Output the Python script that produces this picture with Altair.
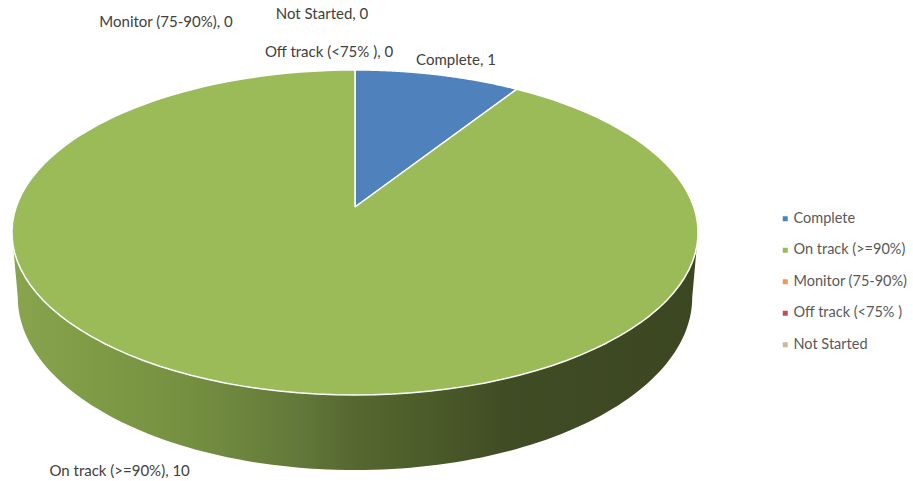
import altair as alt
import pandas as pd

# ---------------- data ----------------
categories = ["Complete", "On track (>=90%)", "Monitor (75-90%)", "Off track (<75% )", "Not Started"]
values = [1, 10, 0, 0, 0]
colors = ["#4F81BD", "#9BBB59", "#F79646", "#C0504D", "#C4BD97"]

# ---------------- layout (not data) ----------------
W, H = 913, 481
CX, CY = 355, 207          # pie apex in pixels
S = 338.8                  # pixels per unit radius
P = 0.157                  # perspective factor
K = 0.468                  # vertical foreshortening of the disc
RB = 0.983                 # bottom rim radius relative to top rim
DEPTH = 0.1865             # wall depth (units)
SIL = 99                   # silhouette angle (deg) where the wall becomes visible
N = 120                    # arc resolution

# label offsets (px) from the slice's rim point at mid angle
label_dx = [18, -123, -189, -26, -33]
label_dy = [-15, 85, -48, -18, -56]

FONT = "Lato"

df = pd.DataFrame({"category": categories, "value": values, "order": list(range(len(categories)))})
df["steps"] = [list(range(-1, N + 2))] * len(df)
df["wsteps"] = [list(range(0, 2 * N + 2))] * len(df)

layout = pd.DataFrame({"category": categories, "ldx": label_dx, "ldy": label_dy})

xs = alt.Scale(domain=[-CX / S, (W - CX) / S], nice=False, zero=False)
ys = alt.Scale(domain=[-CY / S, (H - CY) / S], nice=False, zero=False, reverse=True)
cscale = alt.Scale(domain=categories, range=colors)

base = alt.Chart(df).transform_joinaggregate(
    total="sum(value)"
).transform_window(
    cum="sum(value)", sort=[alt.SortField("order")], frame=[None, 0]
).transform_calculate(
    a0="360*(datum.cum - datum.value)/datum.total",
    a1="360*datum.cum/datum.total",
)

# ---- side wall ----
gradient = alt.LinearGradient(
    gradient="linear", x1=0, x2=1, y1=0, y2=0,
    stops=[
        alt.GradientStop(offset=0.0, color="#88A44D"),
        alt.GradientStop(offset=0.13, color="#7E9A45"),
        alt.GradientStop(offset=0.27, color="#748E40"),
        alt.GradientStop(offset=0.42, color="#62783A"),
        alt.GradientStop(offset=0.5, color="#56672F"),
        alt.GradientStop(offset=0.62, color="#4A5A29"),
        alt.GradientStop(offset=0.72, color="#404C24"),
        alt.GradientStop(offset=1.0, color="#3C4722"),
    ],
)

wall = base.transform_calculate(
    w0=f"max(datum.a0, {SIL})", w1=f"min(datum.a1, {360 - SIL})"
).transform_filter(
    "datum.w1 > datum.w0"
).transform_flatten(["wsteps"]).transform_calculate(
    bot=f"datum.wsteps <= {N}",
    k=f"datum.wsteps <= {N} ? datum.wsteps : {2 * N + 1} - datum.wsteps",
).transform_calculate(
    th=f"(datum.w0 + (datum.w1 - datum.w0)*datum.k/{N})*PI/180"
).transform_calculate(
    px=f"(datum.bot ? {RB} : 1)*sin(datum.th)/(1 + {P}*cos(datum.th))",
    py=f"(-{K}*cos(datum.th) + (datum.bot ? {DEPTH} : 0))/(1 + {P}*cos(datum.th))",
).mark_line(fill=gradient, stroke="transparent", strokeWidth=0).encode(
    x=alt.X("px:Q", scale=xs, axis=None),
    y=alt.Y("py:Q", scale=ys, axis=None),
    detail="category:N",
    order="wsteps:Q",
)

# ---- top face slices (also carries the legend) ----
top = base.transform_filter("datum.value > 0").transform_flatten(["steps"]).transform_calculate(
    k=f"clamp(datum.steps, 0, {N})",
    ctr=f"datum.steps < 0 || datum.steps > {N}",
).transform_calculate(
    th=f"(datum.a0 + (datum.a1 - datum.a0)*datum.k/{N})*PI/180"
).transform_calculate(
    px=f"datum.ctr ? 0 : sin(datum.th)/(1 + {P}*cos(datum.th))",
    py=f"datum.ctr ? 0 : -{K}*cos(datum.th)/(1 + {P}*cos(datum.th))",
).mark_line(stroke="white", strokeWidth=1.5, strokeJoin="round").encode(
    x=alt.X("px:Q", scale=xs, axis=None),
    y=alt.Y("py:Q", scale=ys, axis=None),
    fill=alt.Fill(
        "category:N",
        scale=cscale,
        legend=alt.Legend(
            orient="none", legendX=778, legendY=211.5, title=None,
            symbolType="square", symbolSize=25, symbolStrokeWidth=0,
            symbolStrokeColor="transparent", symbolOpacity=1,
            labelFont=FONT, labelFontSize=14.5, labelColor="#595959",
            labelOffset=1, rowPadding=16.5, padding=0, labelLimit=300,
        ),
    ),
    order="steps:Q",
)

# ---- data labels ----
labels = base.transform_lookup(
    lookup="category", from_=alt.LookupData(layout, "category", ["ldx", "ldy"])
).transform_calculate(
    am="(datum.a0 + datum.a1)/2*PI/180",
    txt="datum.category + ', ' + datum.value",
).transform_calculate(
    lx=f"sin(datum.am)/(1 + {P}*cos(datum.am)) + datum.ldx/{S}",
    ly=f"-{K}*cos(datum.am)/(1 + {P}*cos(datum.am)) + datum.ldy/{S}",
).mark_text(font=FONT, fontSize=15, color="#404040", align="center", baseline="middle").encode(
    x=alt.X("lx:Q", scale=xs, axis=None),
    y=alt.Y("ly:Q", scale=ys, axis=None),
    text="txt:N",
)

chart = alt.layer(wall, top, labels).properties(
    width=W, height=H,
    autosize=alt.AutoSizeParams(type="none"),
    padding=0,
).configure_view(stroke=None)

chart.save("out.html", embed_options={"renderer": "svg", "actions": False})
